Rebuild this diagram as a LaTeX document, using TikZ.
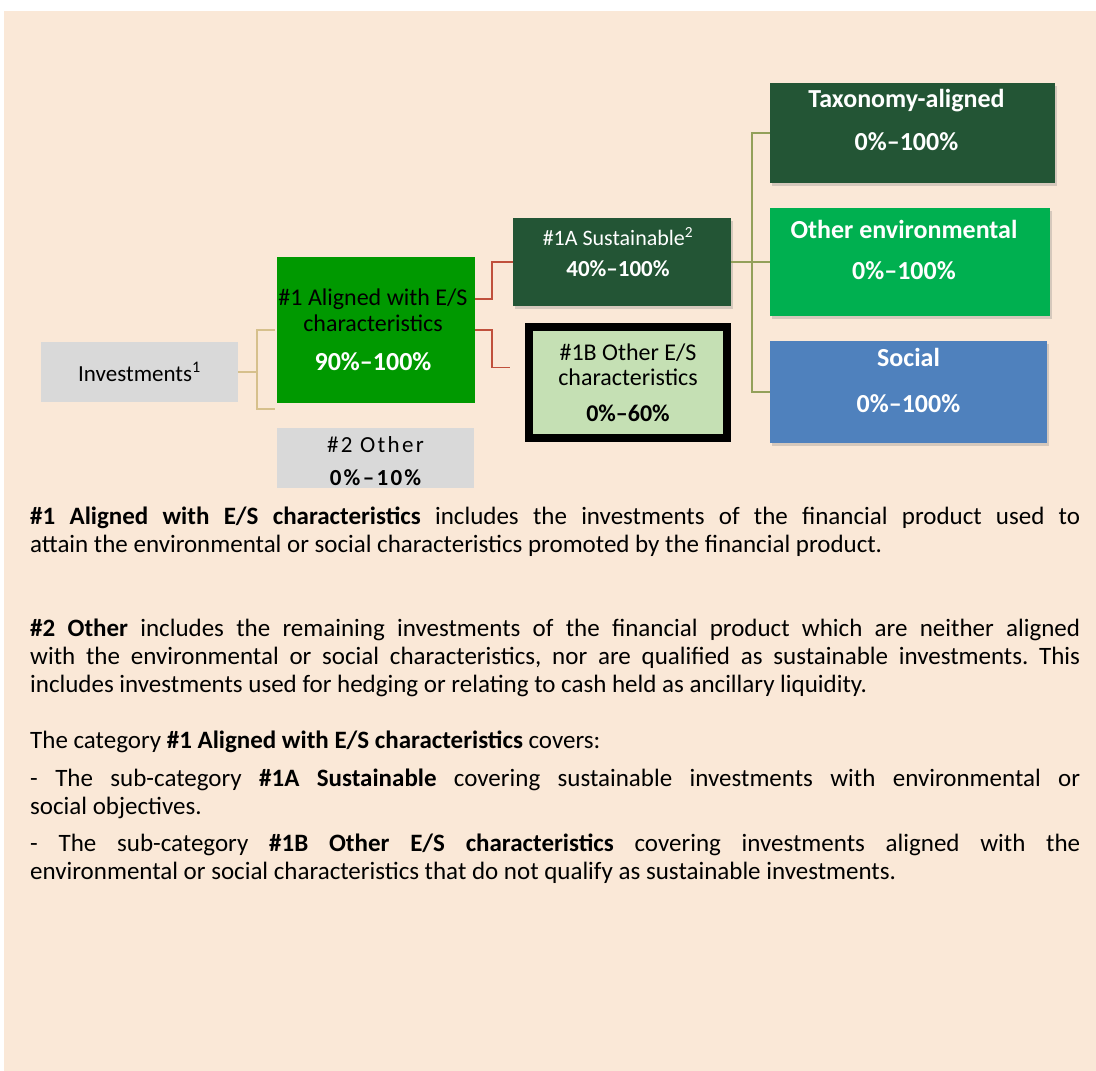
\documentclass[tikz,border=0pt]{standalone}
\usepackage{fontspec}
\setmainfont{Carlito}
\newfontfamily\trackfont[LetterSpace=10]{Carlito}
\usetikzlibrary{positioning,shadows}
\definecolor{esgbg}{HTML}{FAE8D7}
\definecolor{esggrey}{HTML}{D9D9D9}
\definecolor{esggreen}{HTML}{009900}
\definecolor{esgdark}{HTML}{235535}
\definecolor{esgpale}{HTML}{C5E0B4}
\definecolor{esgmid}{HTML}{00B050}
\definecolor{esgblue}{HTML}{4F81BD}
\definecolor{esgtan}{HTML}{D6C08C}
\definecolor{esgred}{HTML}{C0503C}
\definecolor{esgolive}{HTML}{93A05A}
\tolerance=10000
\frenchspacing

\begin{document}
\begin{tikzpicture}[x=1pt,y=-1pt,
  cat/.style={inner sep=0pt,outer sep=0pt},
  shade/.style={drop shadow={shadow xshift=2pt,shadow yshift=-2.5pt,opacity=0.3}},
  txt/.style={align=center,inner sep=0pt},
  wtxt/.style={txt,text=white,font=\bfseries\fontsize{26}{31}\selectfont},
  para/.style={text width=1050pt,align=justify,inner sep=0pt,anchor=base west,font=\fontsize{25}{28}\selectfont},
  fork/.style={draw=esgtan,line width=1.6pt},
  redline/.style={draw=esgred,line width=1.6pt},
  olive/.style={draw=esgolive,line width=1.6pt}
]
\useasboundingbox (0,0) rectangle (1096,1071);
\fill[white] (0,0) rectangle (1096,1071);
\fill[esgbg] (4,11) rectangle (1096,1071);

% boxes
\node[cat,fill=esggrey,minimum width=197,minimum height=60] (inv) at (139.5,372) {};
\node[cat,fill=esggreen,minimum width=198,minimum height=146] (al) at (376,330) {};
\node[cat,fill=esggrey,minimum width=197,minimum height=60] (oth) at (375.5,458) {};
\node[cat,shade,fill=esgdark,minimum width=218,minimum height=88] (sus) at (622,262) {};
\node[cat,draw=black,line width=8pt,outer sep=4pt,fill=esgpale,minimum width=198,minimum height=111] (es) at (628,382.5) {};
\node[cat,shade,fill=esgdark,minimum width=285,minimum height=100] (tax) at (912.5,133) {};
\node[cat,shade,fill=esgmid,minimum width=280,minimum height=108] (env) at (910,262) {};
\node[cat,shade,fill=esgblue,minimum width=277,minimum height=102] (soc) at (908.5,392) {};

% box texts
\node[txt,font=\fontsize{23}{28}\selectfont] (invt) at (inv) {Investments\textsuperscript{1}};
\node[txt,font=\fontsize{24}{26}\selectfont,xshift=-3pt] (alt) at (al)
  {\#1 Aligned with E/S\\characteristics\\[13pt]{\color{white}\bfseries\fontsize{26}{28}\selectfont 90\%–100\%}};
\node[txt,font=\fontsize{23}{28}\selectfont,yshift=-3pt] (otht) at (oth)
  {\trackfont \#2 Other\\[5pt]{\trackfont\bfseries 0\%–10\%}};
\node[txt,text=white,font=\fontsize{22}{31}\selectfont,xshift=-4pt,yshift=10pt] (sust) at (sus)
  {\#1A Sustainable\textsuperscript{2}\\{\bfseries\fontsize{23}{28}\selectfont 40\%–100\%}};
\node[txt,font=\fontsize{24}{25}\selectfont] (est) at (es)
  {\#1B Other E/S\\characteristics\\[11pt]{\bfseries 0\%–60\%}};
\node[wtxt,xshift=-6pt,yshift=13pt] (taxt) at (tax) {Taxonomy-aligned\\[12pt]0\%–100\%};
\node[wtxt,xshift=-6pt,yshift=12pt] (envt) at (env) {Other environmental\\[10pt]0\%–100\%};
\node[wtxt,yshift=12pt] (soct) at (soc) {Social\\[15pt]0\%–100\%};

% connectors
\draw[fork] (inv.east) -- ++(19,0) coordinate (invfork);
\draw[fork] (invfork) |- ([xshift=-2pt]al.west);
\draw[fork] (invfork) |- ([xshift=-2pt,yshift=-6pt]al.south west);
\draw[redline] ([yshift=31pt]al.east) -- ++(17,0) |- (sus.west);
\draw[redline] (al.east) -- ++(17,0) |- ([xshift=-15pt,yshift=15pt]es.west);
\draw[olive] (sus.east) -- ++(21,0) coordinate (envfork);
\draw[olive] (envfork) |- (tax.west);
\draw[olive] (envfork) -- (env.west);
\draw[olive] (envfork) |- (soc.west);

% notes
\node[para] (p1) at (30,524) {\textbf{\#1 Aligned with E/S characteristics} includes the investments of the financial product used to\linebreak attain the environmental or social characteristics promoted by the financial product.};
\node[para] (p2) at (30,636) {\textbf{\#2 Other} includes the remaining investments of the financial product which are neither aligned\linebreak with the environmental or social characteristics, nor are qualified as sustainable investments. This\linebreak includes investments used for hedging or relating to cash held as ancillary liquidity.};
\node[para] (p3) at (30,748) {The category \textbf{\#1 Aligned with E/S characteristics} covers:};
\node[para] (p4) at (30,786) {- The sub-category \textbf{\#1A Sustainable} covering sustainable investments with environmental or\linebreak social objectives.};
\node[para] (p5) at (30,851) {- The sub-category \textbf{\#1B Other E/S characteristics} covering investments aligned with the\linebreak environmental or social characteristics that do not qualify as sustainable investments.};
\end{tikzpicture}
\end{document}
